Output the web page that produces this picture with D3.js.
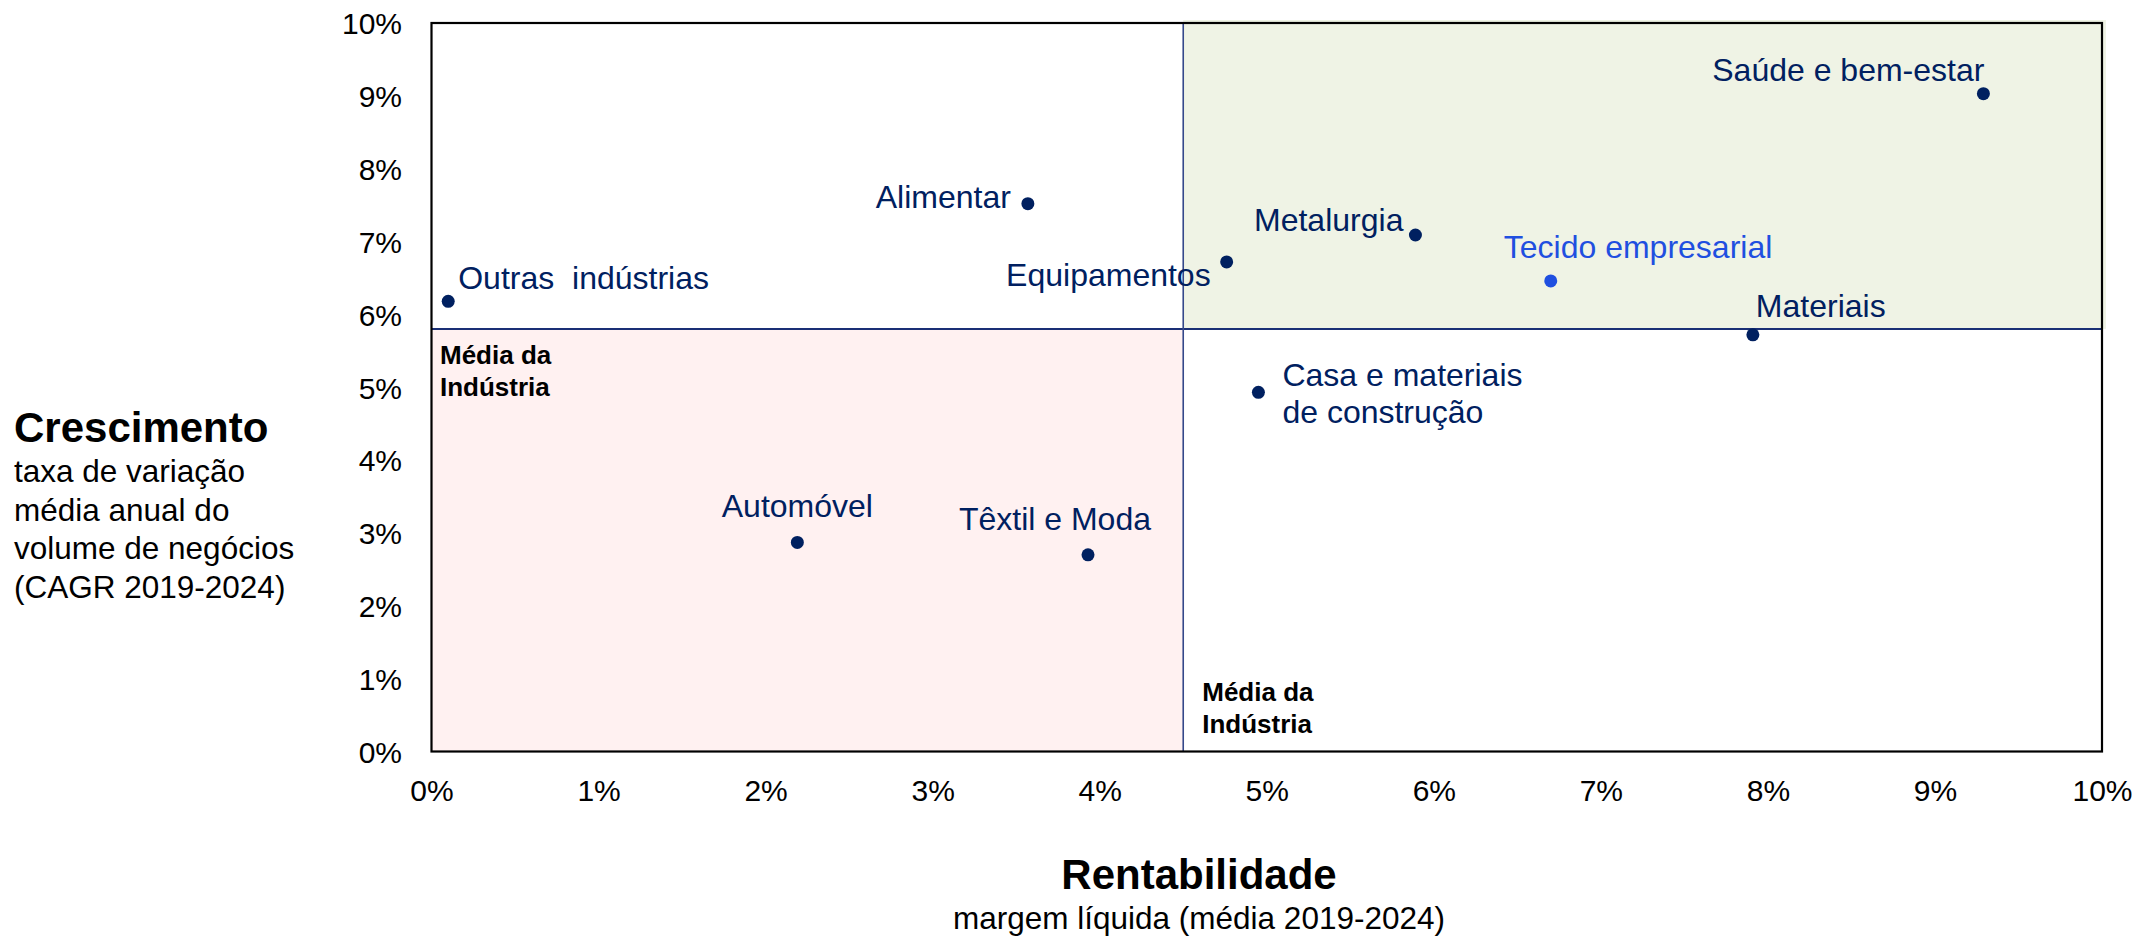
<!DOCTYPE html>
<html>
<head>
<meta charset="utf-8">
<script src="https://cdn.jsdelivr.net/npm/d3@7"></script>
<style>
  body { margin: 0; background: #fff; }
  text { font-family: Arial, 'Liberation Sans', sans-serif; }
</style>
</head>
<body>
<svg></svg>
<script>
// data (values in %)
var sectors = ['Outras  indústrias', 'Alimentar', 'Equipamentos', 'Metalurgia', 'Tecido empresarial',
               'Saúde e bem-estar', 'Materiais', 'Casa e materiais|de construção', 'Automóvel', 'Têxtil e Moda'];
var margin = [0.10, 3.57, 4.76, 5.89, 6.70, 9.29, 7.91, 4.95, 2.19, 3.93];
var growth = [6.18, 7.52, 6.72, 7.09, 6.46, 9.03, 5.72, 4.93, 2.87, 2.70];
var avgMargin = 4.5;
var avgGrowth = 5.8;
var xTicks = [0, 1, 2, 3, 4, 5, 6, 7, 8, 9, 10];
var yTicks = [0, 1, 2, 3, 4, 5, 6, 7, 8, 9, 10];

// label placement per point: [anchor, dx, dy]
var labelPos = [
  ['start', 10, -12], ['end', -17, 4], ['end', -16, 24], ['end', -12, -4], ['start', -47, -23],
  ['end', 1, -13], ['start', 3, -18], ['start', 24, -6], ['middle', 0, -25], ['end', 63, -25]
];

var width = 2146;
var height = 937;
var plotLeft = 431.5, plotRight = 2102, plotTop = 23, plotBottom = 751.5;
var navy = '#002060';

var points = sectors.map((s, i) => ({ name: s, x: margin[i], y: growth[i], pos: labelPos[i] }));

var xScale = d3.scaleLinear().domain([0, 10]).range([plotLeft, plotRight]);
var yScale = d3.scaleLinear().domain([0, 10]).range([plotBottom, plotTop]);

var svg = d3.select('svg')
    .attr('width', width)
    .attr('height', height);

// quadrant fills
svg.append('rect')
    .attr('x', xScale(avgMargin))
    .attr('y', yScale(10) - 3)
    .attr('width', xScale(10) - xScale(avgMargin) + 4)
    .attr('height', yScale(avgGrowth) - yScale(10) + 3)
    .attr('fill', '#eff3e5');

svg.append('rect')
    .attr('x', xScale(0))
    .attr('y', yScale(avgGrowth))
    .attr('width', xScale(avgMargin) - xScale(0))
    .attr('height', yScale(0) - yScale(avgGrowth))
    .attr('fill', '#fff1f1');

// average lines
svg.append('line')
    .attr('x1', xScale(0)).attr('x2', xScale(10))
    .attr('y1', yScale(avgGrowth)).attr('y2', yScale(avgGrowth))
    .attr('stroke', '#1a2f75')
    .attr('stroke-width', 2);

svg.append('line')
    .attr('x1', xScale(avgMargin)).attr('x2', xScale(avgMargin))
    .attr('y1', yScale(0)).attr('y2', yScale(10))
    .attr('stroke', '#34488a')
    .attr('stroke-width', 1.6);

// plot frame
svg.append('rect')
    .attr('x', plotLeft).attr('y', plotTop)
    .attr('width', plotRight - plotLeft).attr('height', plotBottom - plotTop)
    .attr('fill', 'none')
    .attr('stroke', '#000')
    .attr('stroke-width', 2.2);

// axes (labels only)
var xAxis = d3.axisBottom(xScale).tickValues(xTicks).tickSize(0).tickPadding(0)
    .tickFormat(d => d + '%');
var yAxis = d3.axisLeft(yScale).tickValues(yTicks).tickSize(0).tickPadding(0)
    .tickFormat(d => d + '%');

var gx = svg.append('g')
    .attr('transform', 'translate(0,' + plotBottom + ')')
    .call(xAxis);
gx.select('.domain').remove();
gx.selectAll('text')
    .attr('y', 49).attr('dy', null)
    .style('font-size', '30px')
    .style('font-family', "Arial, 'Liberation Sans', sans-serif")
    .attr('fill', '#000');

var gy = svg.append('g')
    .attr('transform', 'translate(402,0)')
    .call(yAxis);
gy.select('.domain').remove();
gy.selectAll('text')
    .attr('x', 0).attr('dy', '0.36em')
    .style('font-size', '30px')
    .style('font-family', "Arial, 'Liberation Sans', sans-serif")
    .attr('fill', '#000');

// average line labels
svg.append('text')
    .attr('x', xScale(0) + 8.5)
    .attr('y', yScale(avgGrowth) + 35)
    .style('font-size', '26px').style('font-weight', 'bold')
    .text('Média da');
svg.append('text')
    .attr('x', xScale(0) + 8.5)
    .attr('y', yScale(avgGrowth) + 67)
    .style('font-size', '26px').style('font-weight', 'bold')
    .text('Indústria');
svg.append('text')
    .attr('x', xScale(avgMargin) + 19)
    .attr('y', 701)
    .style('font-size', '26px').style('font-weight', 'bold')
    .text('Média da');
svg.append('text')
    .attr('x', xScale(avgMargin) + 19)
    .attr('y', 733)
    .style('font-size', '26px').style('font-weight', 'bold')
    .text('Indústria');

// points
svg.selectAll('circle')
  .data(points)
  .enter()
  .append('circle')
    .attr('cx', d => xScale(d.x))
    .attr('cy', d => yScale(d.y))
    .attr('r', 6.5)
    .attr('fill', d => d.name === 'Tecido empresarial' ? '#1f4fe0' : navy);

var labels = svg.selectAll('.label')
  .data(points)
  .enter()
  .append('text')
    .attr('class', 'label')
    .attr('x', d => xScale(d.x) + d.pos[1])
    .attr('y', d => yScale(d.y) + d.pos[2])
    .style('text-anchor', d => d.pos[0])
    .style('font-size', '32px')
    .attr('fill', d => d.name === 'Tecido empresarial' ? '#1f4fe0' : navy)
    .style('white-space', 'pre');

labels.each(function (d) {
  var parts = d.name.split('|');
  var t = d3.select(this);
  parts.forEach((p, i) => {
    t.append('tspan')
      .attr('x', xScale(d.x) + d.pos[1])
      .attr('dy', i === 0 ? 0 : 37)
      .text(p);
  });
});

// axis titles
svg.append('text')
  .attr('x', 1199)
  .attr('y', 889)
  .style('text-anchor', 'middle')
  .style('font-size', '42px')
  .style('font-weight', 'bold')
  .text('Rentabilidade');

svg.append('text')
  .attr('x', 1199)
  .attr('y', 929)
  .style('text-anchor', 'middle')
  .style('font-size', '31.5px')
  .text('margem líquida (média 2019-2024)');

svg.append('text')
  .attr('x', 14)
  .attr('y', 442)
  .style('font-size', '42px')
  .style('font-weight', 'bold')
  .text('Crescimento');

var ySub = ['taxa de variação', 'média anual do', 'volume de negócios', '(CAGR 2019-2024)'];
svg.selectAll('.ysub')
  .data(ySub)
  .enter()
  .append('text')
    .attr('class', 'ysub')
    .attr('x', 14)
    .attr('y', (d, i) => 482 + i * 38.5)
    .style('font-size', '31.5px')
    .text(d => d);
</script>
</body>
</html>
